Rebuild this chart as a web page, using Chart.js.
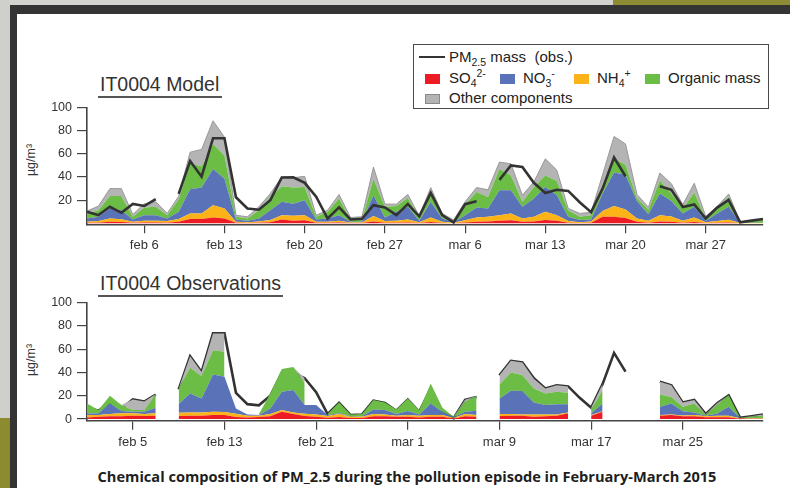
<!DOCTYPE html>
<html>
<head>
<meta charset="utf-8">
<script src="https://cdn.jsdelivr.net/npm/chart.js@4.4.1/dist/chart.umd.min.js"></script>
<style>
  html, body { margin: 0; padding: 0; }
  body { width: 790px; height: 488px; position: relative; overflow: hidden; background: #fff;
         font-family: "Liberation Sans", Arial, sans-serif; color: #333; }
  .abs { position: absolute; }
  .panelTitle { position: absolute; font-size: 19.5px; line-height: 1; color: #333; white-space: nowrap; }
  .rule { position: absolute; height: 2px; background: #555; }
  .lg { position: absolute; font-size: 15px; line-height: 1; color: #222; white-space: nowrap; }
  .lg sub, .lg sup { font-size: 70%; line-height: 0; }
  .sw { position: absolute; width: 15px; height: 10px; }
  .ytitle { position: absolute; font-size: 12.5px; line-height: 1; white-space: nowrap; color: #333;
            transform: translate(-50%, -50%) rotate(-90deg); }
  canvas { position: absolute; left: 0; }
</style>
</head>
<body>
<!-- slide frame -->
<div class="abs" style="left:0;top:0;width:790px;height:6px;background:#d3d3cf"></div>
<div class="abs" style="left:613px;top:0;width:177px;height:6px;background:#8e8b35"></div>
<div class="abs" style="left:0;top:0;width:10px;height:418px;background:#cfcfcb"></div>
<div class="abs" style="left:0;top:418px;width:10px;height:70px;background:#8d8b30"></div>
<div class="abs" style="left:10px;top:5px;width:780px;height:9px;background:#343434"></div>
<div class="abs" style="left:10px;top:5px;width:7px;height:483px;background:#343434"></div>

<div class="panelTitle" style="left:100px;top:74.5px">IT0004 Model</div>
<div class="rule" style="left:98px;top:96px;width:124px"></div>
<div class="panelTitle" style="left:100px;top:273.5px">IT0004 Observations</div>
<div class="rule" style="left:98px;top:294.5px;width:185px"></div>

<div class="ytitle" style="left:31px;top:160px">µg/m³</div>
<div class="ytitle" style="left:31px;top:360px">µg/m³</div>

<!-- legend -->
<div class="abs" style="left:413px;top:44px;width:356px;height:65px;border:1.5px solid #4a4a4a;box-sizing:border-box"></div>
<div class="abs" style="left:419px;top:55.5px;width:26px;height:2.6px;background:#333"></div>
<div class="lg" style="left:449px;top:49px">PM<sub>2.5</sub> mass&nbsp; (obs.)</div>
<div class="sw" style="left:425px;top:74px;background:#ed1c24"></div>
<div class="lg" style="left:449px;top:70px">SO<sub>4</sub><sup>2-</sup></div>
<div class="sw" style="left:500px;top:74px;background:#5a73b8"></div>
<div class="lg" style="left:523px;top:70px">NO<sub>3</sub><sup>-</sup></div>
<div class="sw" style="left:574px;top:74px;background:#fbb317"></div>
<div class="lg" style="left:597px;top:70px">NH<sub>4</sub><sup>+</sup></div>
<div class="sw" style="left:645px;top:74px;background:#6bbd45"></div>
<div class="lg" style="left:668px;top:70px">Organic mass</div>
<div class="sw" style="left:425px;top:93.5px;background:#b4b4b4;border:1px solid #8a8a8a;box-sizing:border-box"></div>
<div class="lg" style="left:449px;top:89.8px">Other components</div>

<canvas id="modelChart" width="790" height="165" style="top:95px"></canvas>
<canvas id="obsChart" width="790" height="165" style="top:290px"></canvas>

<div class="abs" style="left:17px;width:780px;top:468px;text-align:center;font-family:'Open Sans',sans-serif;font-weight:700;font-size:14.6px;line-height:1.2;color:#1e1e1e;white-space:nowrap">Chemical composition of PM_2.5 during the pollution episode in February-March 2015</div>

<script>
// daily categories, 1 Feb to 1 Apr 2015
const days = [
  'feb 1','feb 2','feb 3','feb 4','feb 5','feb 6','feb 7','feb 8','feb 9','feb 10',
  'feb 11','feb 12','feb 13','feb 14','feb 15','feb 16','feb 17','feb 18','feb 19','feb 20',
  'feb 21','feb 22','feb 23','feb 24','feb 25','feb 26','feb 27','feb 28','mar 1','mar 2',
  'mar 3','mar 4','mar 5','mar 6','mar 7','mar 8','mar 9','mar 10','mar 11','mar 12',
  'mar 13','mar 14','mar 15','mar 16','mar 17','mar 18','mar 19','mar 20','mar 21','mar 22',
  'mar 23','mar 24','mar 25','mar 26','mar 27','mar 28','mar 29','mar 30','mar 31','apr 1'
];

// axis tick labels
const modelXTicks = ['feb 6','feb 13','feb 20','feb 27','mar 6','mar 13','mar 20','mar 27'];
const obsXTicks = ['feb 5','feb 13','feb 21','mar 1','mar 9','mar 17','mar 25'];
const modelYTicks = [20, 40, 60, 80, 100];
const obsYTicks = [0, 20, 40, 60, 80, 100];

// observed PM2.5 mass (µg/m3)
const pm25Obs = [10,7.1,14.3,9.1,16.8,15,20.9,null,25.5,53.8, 40.3,73.5,73.5,22.5,12.8,11.8,20,39.6,39.8,35,
  23,4.2,13.8,3.4,3.9,15.7,13.8,7.1,16.6,6.1, 26.3,7.1,0.8,16.5,19,null,37.5,50,48.6,35,
  26.2,29,28,18.2,9.7,30,56.8,40.7,null,null, 32,29,14.1,16.4,4.2,13.6,20.2,1,2.4,3.8];

// modelled species (µg/m3)
const modelSO4 = [0.6,0.6,1.4,1.2,0.5,0.8,0.8,0.6,1.4,3.7, 3.7,5.1,4.3,0.6,0.4,0.6,0.9,3.4,2.3,2.6,
  0.6,0.6,0.8,0.3,0.3,1.7,0.6,0.6,0.8,0.3, 1.2,0.4,0.2,0.8,1.4,1.7,2.3,2.6,1.4,1.7,
  2.9,2.3,0.6,0.3,0.6,5.7,5.7,4.7,1.4,0.6, 1.7,1.4,0.6,1.2,0.3,0.6,0.8,0.2,0.2,0.2];
const modelNH4 = [0.9,1.4,2.9,2.3,1.0,1.5,1.5,1.4,2.3,4.9, 4.9,10.6,8.5,0.9,0.6,1.1,2.0,3.6,4.3,4.4,
  0.9,0.9,1.5,0.5,0.5,4.6,1.4,1.7,2.6,0.6, 3.9,1.1,0.3,1.8,3.7,4.0,4.7,6.0,2.9,4.0,
  7.1,4.7,1.4,0.7,1.1,5.0,9.3,7.3,2.9,1.7, 5.4,4.6,1.7,3.9,0.6,1.4,2.4,0.2,0.2,0.2];
const modelNO3 = [2.8,3.7,8.6,7.9,1.9,4.7,4.7,2.3,6.3,20.9, 22.4,31.3,25.7,1.9,1.3,2.6,8.5,11.6,10.4,13.0,
  1.9,2.8,4.7,0.7,0.7,18.0,3.0,7.7,10.9,1.4, 13.5,2.8,0.5,4.4,8.6,7.1,21.6,20.0,10.0,15.7,
  21.4,17.5,3.7,1.9,1.7,15.0,29.0,30.0,15.0,5.5, 18.6,13.3,6.3,9.2,1.4,6.6,11.1,0.2,0.2,0.2];
const modelOrg = [4.3,5.7,10.8,12.3,2.3,6.7,7.3,2.7,10.6,22.5, 18.0,21.5,20.1,2.3,2.0,7.1,11.4,13.4,13.9,11.4,
  2.3,5.7,14.4,1.9,1.9,14.3,9.3,4.9,7.7,2.8, 7.1,2.7,1.0,9.6,13.3,10.0,18.4,12.8,4.3,10.0,
  10.0,12.0,5.7,2.8,3.6,7.3,11.7,8.7,2.7,3.9, 11.3,6.4,4.3,12.3,2.0,4.3,8.3,0.4,1.7,2.6];
const modelOther = [2.0,3.5,6.3,6.3,2.0,3.3,4.3,1.6,2.8,9.4, 14.8,20.0,15.7,1.3,1.4,2.9,2.9,8.0,8.5,9.2,
  1.3,1.4,3.5,1.7,2.3,10.0,2.3,1.7,3.0,1.2, 5.2,1.6,0.9,2.0,3.9,6.2,5.9,10.0,5.7,4.3,
  14.3,9.5,1.5,2.9,2.5,9.0,19.3,17.9,3.0,2.3, 6.5,8.6,3.3,8.0,1.7,1.7,2.8,0.4,0.2,0.2];

// observed species (µg/m3), null = no measurement
const obsSO4 = [1.4,2,2.3,2.3,2.9,2.6,2.9,null,2.6,2.9, 2.9,3.4,3.4,1.7,1.4,1.7,2.3,6.3,4.3,2.6,
  2,1.2,1.7,1,1,2.3,2.3,2,2,1.4, 2,2,0.5,2.3,2,null,2.6,2.9,2.9,2,
  2.3,2.9,4.9,null,2.9,6.3,null,null,null,null, 2.8,3.4,2.3,2.3,1.5,1.5,1.5,0.3,0.3,0.3];
const obsNH4 = [2.1,1.5,2,2.6,2,1.7,2,null,2.8,2.8, 2.8,2.9,2.6,2.8,1.4,1.2,2,1.4,1.4,1.9,
  2,1.5,2.6,1,1,2,1.7,0.9,1.4,1.5, 1.4,1.4,0.5,2,1.4,null,1.7,1.4,1.1,2,
  1.7,1.1,0.8,null,0.5,0.5,null,null,null,null, 0.7,0.6,0.7,1.1,0.8,1.3,1.3,0.3,0.3,0.3];
const obsNO3 = [1.3,1.4,9.1,2,1.4,2,4.8,null,7.6,16.3, 12,32,30.3,4.6,1.2,0.5,4.8,15.7,19.2,7.5,
  8,0.7,0.7,0.5,0.5,4,3.7,1.4,3.5,1.1, 10,2.9,0.5,2,3.7,null,13.4,20,20,10.3,
  8,8.6,6.9,null,1.5,6.6,null,null,null,null, 7,9.4,3.8,2.3,0.5,2,7.7,0.2,0.2,0.2];
const obsOrg = [8.6,2.8,6.6,5.1,1.4,1.4,11.7,null,13.3,22, 19.2,20.7,21.4,null,null,0.8,12.9,19.5,19.7,19,
  null,0.9,9.3,1.5,1.8,8,6.6,4,10.8,3.7, 17.2,3.7,0.5,8.6,12.6,null,12,15.7,13.7,12,
  10,10.8,10,null,2.8,11.6,null,null,null,null, 10.5,5.6,3.7,7.7,0.6,7.2,10,0.3,1.2,2];
const obsOther = [0,0,0,0,9.1,7.3,0,null,0,9.8, 3.4,14.5,15.8,null,null,null,0,0,0,4,
  null,0,0,0,0,0,0,0,0,0, 0,0,0,1.6,0,null,7.8,10,10.9,8.2,
  4.2,5.6,5.4,null,2,5,null,null,null,null, 11,10,3.6,3,0.8,1.6,0,0,0.4,1];

const speciesNames = ['SO4', 'NH4', 'NO3', 'Organic mass', 'Other components'];
const speciesColors = ['#ed1c24', '#fbb317', '#5a73b8', '#6bbd45', '#b4b4b4'];

function buildChart(id, parts, pm, xTicks, yTicks, o) {
  const datasets = parts.map((data, i) => {
    const edge = (i === 4 && o.greyEdge);
    return {
      label: speciesNames[i],
      data,
      backgroundColor: speciesColors[i],
      borderColor: edge ? '#999999' : speciesColors[i],
      borderWidth: edge ? 1 : 0,
      fill: i === 0 ? 'origin' : '-1',
      pointRadius: 0,
      tension: 0,
      stack: 'species',
      order: 1
    };
  });
  datasets.push({
    label: 'PM2.5 mass (obs.)',
    data: pm,
    borderColor: '#333333',
    borderWidth: 2.6,
    fill: false,
    pointRadius: 0,
    tension: 0,
    stack: 'pm',
    order: o.lineOnTop ? 0 : 2
  });

  const tickFont = { family: 'Liberation Sans', size: 13 };
  new Chart(document.getElementById(id), {
    type: 'line',
    data: { labels: days, datasets },
    options: {
      responsive: false,
      animation: false,
      events: [],
      layout: { padding: { left: 0, right: 27, top: o.padTop, bottom: 0 } },
      plugins: { legend: { display: false }, tooltip: { enabled: false } },
      scales: {
        x: {
          type: 'category',
          offset: false,
          grid: { display: true, drawOnChartArea: false, drawTicks: true, tickLength: 9,
                  color: '#444', lineWidth: 1.2, offset: false },
          border: { display: true, color: '#444', width: 1.6 },
          ticks: { autoSkip: false, maxRotation: 0, padding: o.xPad, color: '#333', font: tickFont },
          afterBuildTicks: s => { s.ticks = xTicks.map(n => ({ value: days.indexOf(n) })); },
          afterFit: s => { s.height = o.xHeight; }
        },
        y: {
          stacked: true,
          min: o.yMin,
          max: 100,
          grid: { display: true, drawOnChartArea: false, drawTicks: true, tickLength: 10,
                  color: '#444', lineWidth: 1.2 },
          border: { display: true, color: '#444', width: 1.6 },
          ticks: { padding: 5, color: '#333', font: { family: 'Liberation Sans', size: 12.5 } },
          afterBuildTicks: s => { s.ticks = yTicks.map(v => ({ value: v })); },
          afterFit: s => { s.width = 87; }
        }
      }
    }
  });
}

buildChart('modelChart', [modelSO4, modelNH4, modelNO3, modelOrg, modelOther], pm25Obs,
  modelXTicks, modelYTicks, { padTop: 12, xHeight: 35.7, yMin: -0.8, xPad: 4, lineOnTop: true, greyEdge: true });
buildChart('obsChart', [obsSO4, obsNH4, obsNO3, obsOrg, obsOther], pm25Obs,
  obsXTicks, obsYTicks, { padTop: 11.7, xHeight: 34.2, yMin: -1.5, xPad: 5, lineOnTop: false, greyEdge: false });
</script>
</body>
</html>
